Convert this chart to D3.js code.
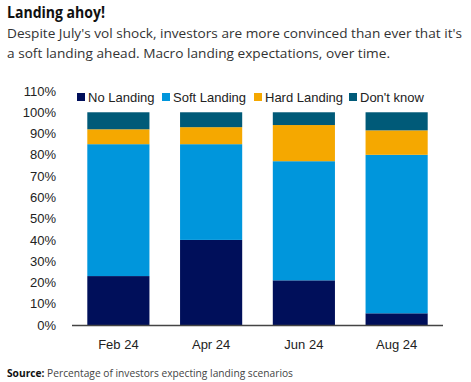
<!DOCTYPE html>
<html><head><meta charset="utf-8">
<script src="https://cdn.jsdelivr.net/npm/d3@7"></script>
<style>
body{margin:0;background:#fff;}
svg{display:block;}
</style></head>
<body>
<svg id="chart" width="471" height="382"></svg>
<script>
const categories = ["Feb 24", "Apr 24", "Jun 24", "Aug 24"];
const seriesNames = ["No Landing", "Soft Landing", "Hard Landing", "Don't know"];
const noLanding   = [23, 40, 21, 5.5];
const softLanding = [62, 45, 56, 74.5];
const hardLanding = [7, 8, 17, 11.5];
const dontKnow    = [8, 7, 6, 8.5];
const colors = ["#000f5a", "#0096dc", "#f5a800", "#005a78"];
const yTicks = [0,10,20,30,40,50,60,70,80,90,100,110];

const svg = d3.select("#chart");
const rows = categories.map((c,i)=>({cat:c, "No Landing":noLanding[i], "Soft Landing":softLanding[i], "Hard Landing":hardLanding[i], "Don't know":dontKnow[i]}));
const stack = d3.stack().keys(seriesNames)(rows);

const x = d3.scaleBand().domain(categories).range([72, 443]).paddingInner(0.33).paddingOuter(0.165);
const y = d3.scaleLinear().domain([0, 110]).range([325, 91]);

// title
svg.append("text").attr("x",7).attr("y",18).attr("font-family","Open Sans").attr("font-weight","bold")
  .attr("font-size",16).attr("fill","#111").attr("textLength",98).attr("lengthAdjust","spacingAndGlyphs").text("Landing ahoy!");
const sub = ["Despite July's vol shock, investors are more convinced than ever that it's",
             "a soft landing ahead. Macro landing expectations, over time."];
const subLen = [455, 383];
sub.forEach((t,i)=>svg.append("text").attr("x",7).attr("y",38+i*20).attr("font-family","Open Sans")
  .attr("font-size",13.2).attr("fill","#333").attr("textLength",subLen[i]).attr("lengthAdjust","spacingAndGlyphs").text(t));

// bars
svg.append("g").selectAll("g").data(stack).join("g").attr("fill",(d,i)=>colors[i])
  .selectAll("rect").data(d=>d).join("rect")
  .attr("x",d=>x(d.data.cat)).attr("width",x.bandwidth())
  .attr("y",d=>y(d[1])).attr("height",d=>y(d[0])-y(d[1]));

// y axis
const yAxis = d3.axisLeft(y).tickValues(yTicks).tickFormat(d=>d+"%").tickSize(0).tickPadding(0);
const gy = svg.append("g").attr("transform","translate(56,0)").call(yAxis);
gy.select(".domain").remove();
gy.selectAll("text").attr("font-family","Liberation Sans, Arial").attr("font-size",13).attr("fill","#222");

// x axis
const xAxis = d3.axisBottom(x).tickSize(0).tickPadding(0);
const gx = svg.append("g").attr("transform","translate(0,325)").call(xAxis);
gx.select(".domain").attr("stroke","#444").attr("stroke-width",1.3).attr("d","M72,0.5H443");
gx.selectAll("text").attr("dy","1.85em").attr("font-family","Liberation Sans, Arial").attr("font-size",13).attr("fill","#222");

// legend
const legendX = [77, 162, 254, 349];
const lg = svg.append("g").selectAll("g").data(seriesNames).join("g")
  .attr("transform",(d,i)=>`translate(${legendX[i]},97)`);
lg.append("rect").attr("x",0).attr("y",-4).attr("width",8).attr("height",8).attr("fill",(d,i)=>colors[i]);
lg.append("text").attr("x",11).attr("y",5).attr("font-family","Liberation Sans, Arial").attr("font-size",13)
  .attr("fill","#222").text(d=>d);

// source
const src = svg.append("text").attr("x",7).attr("y",377).attr("font-family","Open Sans").attr("font-size",10.5).attr("fill","#444")
  .attr("textLength",286).attr("lengthAdjust","spacingAndGlyphs");
src.append("tspan").attr("font-weight","bold").attr("fill","#111").text("Source:");
src.append("tspan").text(" Percentage of investors expecting landing scenarios");
</script>
</body></html>
